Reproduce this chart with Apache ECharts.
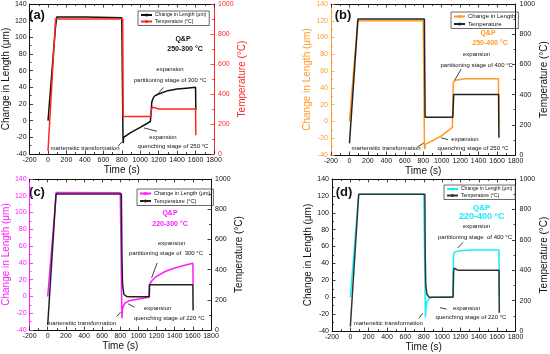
<!DOCTYPE html>
<html><head><meta charset="utf-8">
<script src="https://cdn.jsdelivr.net/npm/echarts@6/dist/echarts.min.js"></script>
<style>html,body{margin:0;padding:0;background:#fff}#c{width:550px;height:354px}</style>
</head><body><div id="c"></div>
<script>
// ---------- data (time in s, length in µm, temperature in °C) ----------
const timeRange = [-200, 1800, 200];
const lenRange = [-40, 140, 20];
const tempRange = [0, 1000, 200];

const tA_len = [0, 80, 95, 400, 800, 810, 813, 815, 820, 900, 1000, 1110, 1118, 1125, 1140, 1160, 1200, 1300, 1400, 1500, 1600, 1603];
const vA_len = [0, 111, 124.5, 124.5, 123.6, 123.5, -20, -27, -20, -14, -8, -1, 10, 22, 27, 30, 32, 36, 38, 39, 40, 13];
const tA_temp = [0, 82, 810, 815, 1110, 1118, 1130, 1145, 1170, 1200, 1600, 1603];
const vA_temp = [22, 900, 900, 250, 250, 290, 312, 316, 306, 300, 300, 125];

const tB_len = [0, 90, 800, 810, 813, 816, 825, 900, 1000, 1116, 1120, 1126, 1150, 1200, 1250, 1615, 1618];
const vB_len = [0, 120, 120, 119.5, -30, -33, -27, -23, -17, -7, 20, 47, 49, 50, 51, 51, -5];
const tB_temp = [0, 92, 812, 820, 1120, 1130, 1617, 1620];
const vB_temp = [77, 900, 900, 250, 250, 400, 400, 115];

const tC_len = [0, 95, 800, 812, 818, 825, 850, 900, 1000, 1115, 1120, 1125, 1150, 1200, 1300, 1400, 1500, 1600, 1603];
const vC_len = [0, 124, 123.5, 123, -26, -14, -8, -5, -3, -1, 14, 15, 19, 24, 30, 34, 37, 39.5, 14];
const tC_temp = [0, 91, 812, 818, 825, 840, 870, 900, 1120, 1123, 1600, 1603];
const vC_temp = [33, 900, 900, 500, 300, 235, 222, 220, 220, 300, 300, 130];

const tD_len = [0, 91, 800, 812, 818, 825, 835, 870, 900, 1115, 1120, 1126, 1150, 1200, 1300, 1620, 1623];
const vD_len = [0, 122, 122, 121.5, -24, -12, -5, -1, 0, 1, 30, 52, 54, 55, 56, 56, 0];
const tD_temp = [0, 91, 812, 816, 822, 835, 860, 1120, 1125, 1132, 1145, 1170, 1620, 1623];
const vD_temp = [30, 900, 900, 500, 300, 240, 222, 222, 390, 413, 405, 400, 400, 120];

// annotation arrows: [tailTime, tailLen, tipTime, tipLen]
const arrowsA = [[1252, 40, 1175, 30], [759, -30.5, 802, -25.5], [1182, -12.7, 1040, -8.7]];
const arrowsB = [[1211, 62.5, 1140, 49], [735, -30.5, 805, -25.7], [1070, -21.8, 992, -19.4]];
const arrowsC = [[1206, 40, 1145, 22], [760, -24, 803, -18.7], [957, -12.8, 886, -8.8]];
const arrowsD = [[1226, 64.9, 1173, 58.5], [747, -24.9, 790, -19], [1048, -14.2, 977, -12.3]];

const legendNames = {
  La: 'Change in Length (μm)', Ta: 'Temperature (°C)',
  Lb: 'Change in Length', Tb: 'Temperature',
  Lc: 'Change in Length (μm)', Tc: 'Temperature (°C)',
  Ld: 'Change in Length (μm)', Td: 'Temperature (°C)'
};

// ---------- layout/styling ----------
const FONT = '"Liberation Sans", Arial, sans-serif';
const RED = '#ff2626', ORANGE = '#ff9a26', MAGENTA = '#ff1aff', CYAN = '#14eef6', BLK = '#111';
const zip = (t, v) => t.map((x, i) => [x, v[i]]);
const plain = v => String(v);

const panels = [
  { id: 'a', grid: {left: 25, top: 4, width: 189, height: 150}, tL: tA_len, vL: vA_len, tT: tA_temp, vT: vA_temp,
    lenColor: BLK, tempColor: RED, leftAxisColor: BLK, rightAxisColor: RED, arrows: arrowsA,
    leftGap: 13, rightGap: 14, legend: {left: 138, top: 11, fs: 5} },
  { id: 'b', grid: {left: 331, top: 4, width: 189, height: 151}, tL: tB_len, vL: vB_len, tT: tB_temp, vT: vB_temp,
    lenColor: ORANGE, tempColor: '#222', leftAxisColor: ORANGE, rightAxisColor: BLK, arrows: arrowsB,
    leftGap: 13, rightGap: 15, legend: {left: 451, top: 12, fs: 6} },
  { id: 'c', grid: {left: 23, top: 179, width: 188, height: 151}, tL: tC_len, vL: vC_len, tT: tC_temp, vT: vC_temp,
    lenColor: MAGENTA, tempColor: '#222', leftAxisColor: MAGENTA, rightAxisColor: BLK, arrows: arrowsC,
    leftGap: 13, rightGap: 12, legend: {left: 137, top: 189, fs: 5.5} },
  { id: 'd', grid: {left: 332, top: 179, width: 188, height: 152}, tL: tD_len, vL: vD_len, tT: tD_temp, vT: vD_temp,
    lenColor: CYAN, tempColor: '#333', leftAxisColor: BLK, rightAxisColor: BLK, arrows: arrowsD,
    leftGap: 14, rightGap: 13, legend: {left: 444, top: 185, fs: 5} }
];

const texts = [
  ['(a)', 37, 15, 'bold 13px', BLK], ['Q&P', 183, 39, 'bold 7px', BLK], ['250-300 °C', 185, 49, 'bold 7px', BLK],
  ['expansion', 170, 69.5, '6px', BLK], ['partitioning stage of 300 °C', 170, 80, '6px', BLK],
  ['martensitic transformation', 85, 148, '6px', BLK], ['expansion', 163, 137, '6px', BLK],
  ['quenching stage of 250 °C', 173, 146, '6px', BLK],

  ['(b)', 343, 15, 'bold 13px', BLK], ['Q&P', 488, 33, 'bold 7px', ORANGE], ['250-400 °C', 490, 43.3, 'bold 7px', ORANGE],
  ['expansion', 476.7, 54.3, '6px', BLK], ['partitioning stage of 400 °C', 476.7, 65.7, '6px', BLK],
  ['martensitic transformation', 386, 148.3, '6px', BLK], ['expansion', 465, 139.3, '6px', BLK],
  ['quenching stage of 250 °C', 473, 148.3, '6px', BLK],

  ['(c)', 37, 192, 'bold 13px', BLK], ['Q&P', 170, 213, 'bold 7px', MAGENTA], ['220-300 °C', 170, 223.7, 'bold 7px', MAGENTA],
  ['expansion', 171.7, 243, '6px', BLK], ['partitioning stage of  300 °C', 166, 253, '6px', BLK],
  ['martensitic transformation', 81.7, 323.7, '6px', BLK], ['expansion', 157.7, 308.7, '6px', BLK],
  ['quenching stage of 220 °C', 169.3, 318.7, '6px', BLK],

  ['(d)', 344, 192, 'bold 13px', BLK], ['Q&P', 481.7, 207.5, 'bold 8px', CYAN], ['220-400 °C', 481.7, 216.5, 'bold 9px', CYAN],
  ['expansion', 476.7, 226.3, '6px', BLK], ['partitioning stage  of 400 °C', 475, 237, '6px', BLK],
  ['martensitic transformation', 388.3, 323.7, '6px', BLK], ['expansion', 466.7, 308, '6px', BLK],
  ['quenching stage of 220 °C', 471, 317.7, '6px', BLK]
];

// ---------- build option ----------
const option = {
  animation: false, backgroundColor: '#fff',
  textStyle: {fontFamily: FONT},
  grid: [], xAxis: [], yAxis: [], series: [], legend: [], graphic: []
};

const tickCommon = (color) => ({
  axisLine: {show: true, onZero: false, lineStyle: {color: color, width: 1}},
  axisTick: {show: true, inside: true, length: 3.5, lineStyle: {color: color, width: 0.8}},
  minorTick: {show: true, splitNumber: 2, length: 2, lineStyle: {color: color, width: 0.8}},
  splitLine: {show: false}
});

panels.forEach((p, i) => {
  option.grid.push(Object.assign({containLabel: false}, p.grid));
  option.xAxis.push(Object.assign({
    type: 'value', gridIndex: i, position: 'bottom',
    min: timeRange[0], max: timeRange[1], interval: timeRange[2],
    name: 'Time (s)', nameLocation: 'middle', nameGap: 11,
    nameTextStyle: {fontSize: 10, color: BLK, fontFamily: FONT},
    axisLabel: {fontSize: 7, color: BLK, margin: 3, fontFamily: FONT, formatter: plain}
  }, tickCommon(BLK)));
  option.yAxis.push(Object.assign({
    type: 'value', gridIndex: i, position: 'left',
    min: lenRange[0], max: lenRange[1], interval: lenRange[2],
    name: 'Change in Length (μm)', nameLocation: 'middle', nameGap: p.leftGap,
    nameTextStyle: {fontSize: 10, color: p.leftAxisColor, fontFamily: FONT},
    axisLabel: {fontSize: 7, color: p.leftAxisColor, margin: 3, fontFamily: FONT, formatter: plain}
  }, tickCommon(p.leftAxisColor)));
});
panels.forEach((p, i) => {
  option.xAxis.push(Object.assign({
    type: 'value', gridIndex: i, position: 'top',
    min: timeRange[0], max: timeRange[1], interval: timeRange[2],
    axisLabel: {show: false}
  }, tickCommon(BLK)));
  option.yAxis.push(Object.assign({
    type: 'value', gridIndex: i, position: 'right',
    min: tempRange[0], max: tempRange[1], interval: tempRange[2],
    name: 'Temperature (°C)', nameLocation: 'middle', nameGap: p.rightGap,
    nameTextStyle: {fontSize: 10, color: p.rightAxisColor, fontFamily: FONT},
    axisLabel: {fontSize: 7, color: p.rightAxisColor, margin: 4, fontFamily: FONT, formatter: plain}
  }, tickCommon(p.rightAxisColor)));
});

panels.forEach((p, i) => {
  const lName = 'L' + p.id, tName = 'T' + p.id;
  option.series.push({
    name: lName, type: 'line', xAxisIndex: i, yAxisIndex: i,
    data: zip(p.tL, p.vL), symbol: 'none', smooth: false, silent: true,
    lineStyle: {color: p.lenColor, width: 1.5}, itemStyle: {color: p.lenColor}, z: 2,
    markLine: {
      silent: true, symbol: ['none', 'arrow'], symbolSize: [0, 5], animation: false,
      label: {show: false}, lineStyle: {color: BLK, width: 0.8, type: 'solid'},
      data: p.arrows.map(a => [{coord: [a[0], a[1]]}, {coord: [a[2], a[3]]}])
    }
  });
  option.series.push({
    name: tName, type: 'line', xAxisIndex: i, yAxisIndex: i + 4,
    data: zip(p.tT, p.vT), symbol: 'none', smooth: false, silent: true,
    lineStyle: {color: p.tempColor, width: 1.5}, itemStyle: {color: p.tempColor}, z: 3
  });
  option.legend.push({
    data: [lName, tName], left: p.legend.left, top: p.legend.top, orient: 'vertical',
    formatter: n => legendNames[n], selectedMode: false,
    itemWidth: 11, itemHeight: 4, itemGap: 1.5, padding: [1.5, 3, 1.5, 2],
    borderColor: '#444', borderWidth: 0.8,
    textStyle: {fontSize: p.legend.fs, color: BLK, fontFamily: FONT, padding: [0, 0, 0, -2]}
  });
});

texts.forEach(t => {
  option.graphic.push({
    type: 'text', x: t[1], y: t[2], silent: true,
    style: {text: t[0], font: t[3] + ' ' + FONT, fill: t[4], align: 'center', verticalAlign: 'middle'}
  });
});

const chart = echarts.init(document.getElementById('c'), null, {renderer: 'canvas'});
chart.setOption(option);
</script></body></html>
